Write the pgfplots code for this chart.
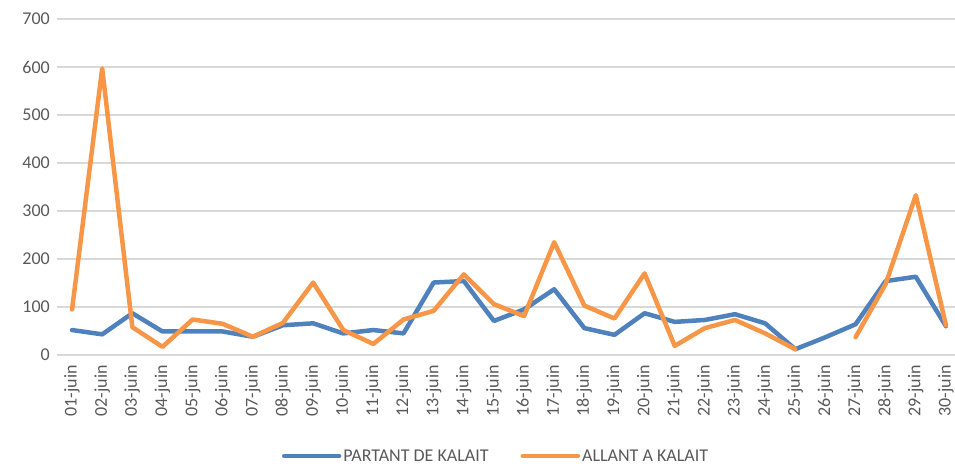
\documentclass[border=0pt]{standalone}
\usepackage{pgfplots}
\pgfplotsset{compat=1.18}
\usepackage{pgfplotstable}
\usepackage{fontspec}
\setmainfont{Carlito}
\definecolor{serblue}{HTML}{4F81BD}
\definecolor{serorange}{HTML}{F79646}
\definecolor{txtgray}{HTML}{595959}
\definecolor{gridgray}{HTML}{D9D9D9}
\pgfplotstableread{
x partant allant
0 52 95
1 43 597
2 87 58
3 49 17
4 49 74
5 49 65
6 38 38
7 62 67
8 66 151
9 45 52
10 52 23
11 45 74
12 151 92
13 154 168
14 71 106
15 95 81
16 137 235
17 56 103
18 42 76
19 87 170
20 69 19
21 73 56
22 85 73
23 66 45
24 12 12
25 37 nan
26 64 37
27 154 148
28 163 333
29 60 62
}\datatable
\begin{document}
\begin{tikzpicture}
\path[use as bounding box] (-57bp,-109bp) rectangle (898bp,355bp);
\begin{axis}[
  at={(0,0)}, anchor=south west,
  scale only axis, width=904bp, height=336bp,
  xmin=-0.5, xmax=29.5, ymin=0, ymax=700,
  ytick={0,100,...,700},
  xtick={0,...,29},
  xticklabels={01-juin,02-juin,03-juin,04-juin,05-juin,06-juin,07-juin,08-juin,09-juin,10-juin,11-juin,12-juin,13-juin,14-juin,15-juin,16-juin,17-juin,18-juin,19-juin,20-juin,21-juin,22-juin,23-juin,24-juin,25-juin,26-juin,27-juin,28-juin,29-juin,30-juin},
  x tick label style={rotate=90, anchor=east, font=\fontsize{18bp}{20bp}\selectfont, text=txtgray, inner sep=0pt},
  y tick label style={font=\fontsize{18bp}{20bp}\selectfont, text=txtgray, inner sep=0pt},
  xticklabel shift=10bp,
  yticklabel shift=7bp,
  /pgf/number format/assume math mode=true,
  ymajorgrids, grid style={gridgray, line width=1.5bp},
  axis line style={draw=none},
  major tick length=0pt,
  clip=false,
  unbounded coords=jump,
  legend columns=2,
  legend style={draw=none, fill=none, at={(496bp-57bp,-101bp)}, anchor=center,
    font=\fontsize{18bp}{20bp}\selectfont, text=txtgray,
    /tikz/every even column/.append style={column sep=30bp}},
  legend image code/.code={\draw[#1, line cap=round] (0bp,0bp) -- (55bp,0bp);},
]
\addplot[serblue, line width=4.5bp, line join=round, line cap=round] table[x=x, y=partant] {\datatable};
\addlegendentry{PARTANT DE KALAIT}
\addplot[serorange, line width=4.5bp, line join=round, line cap=round] table[x=x, y=allant] {\datatable};
\addlegendentry{ALLANT A KALAIT}
\end{axis}
\end{tikzpicture}
\end{document}
